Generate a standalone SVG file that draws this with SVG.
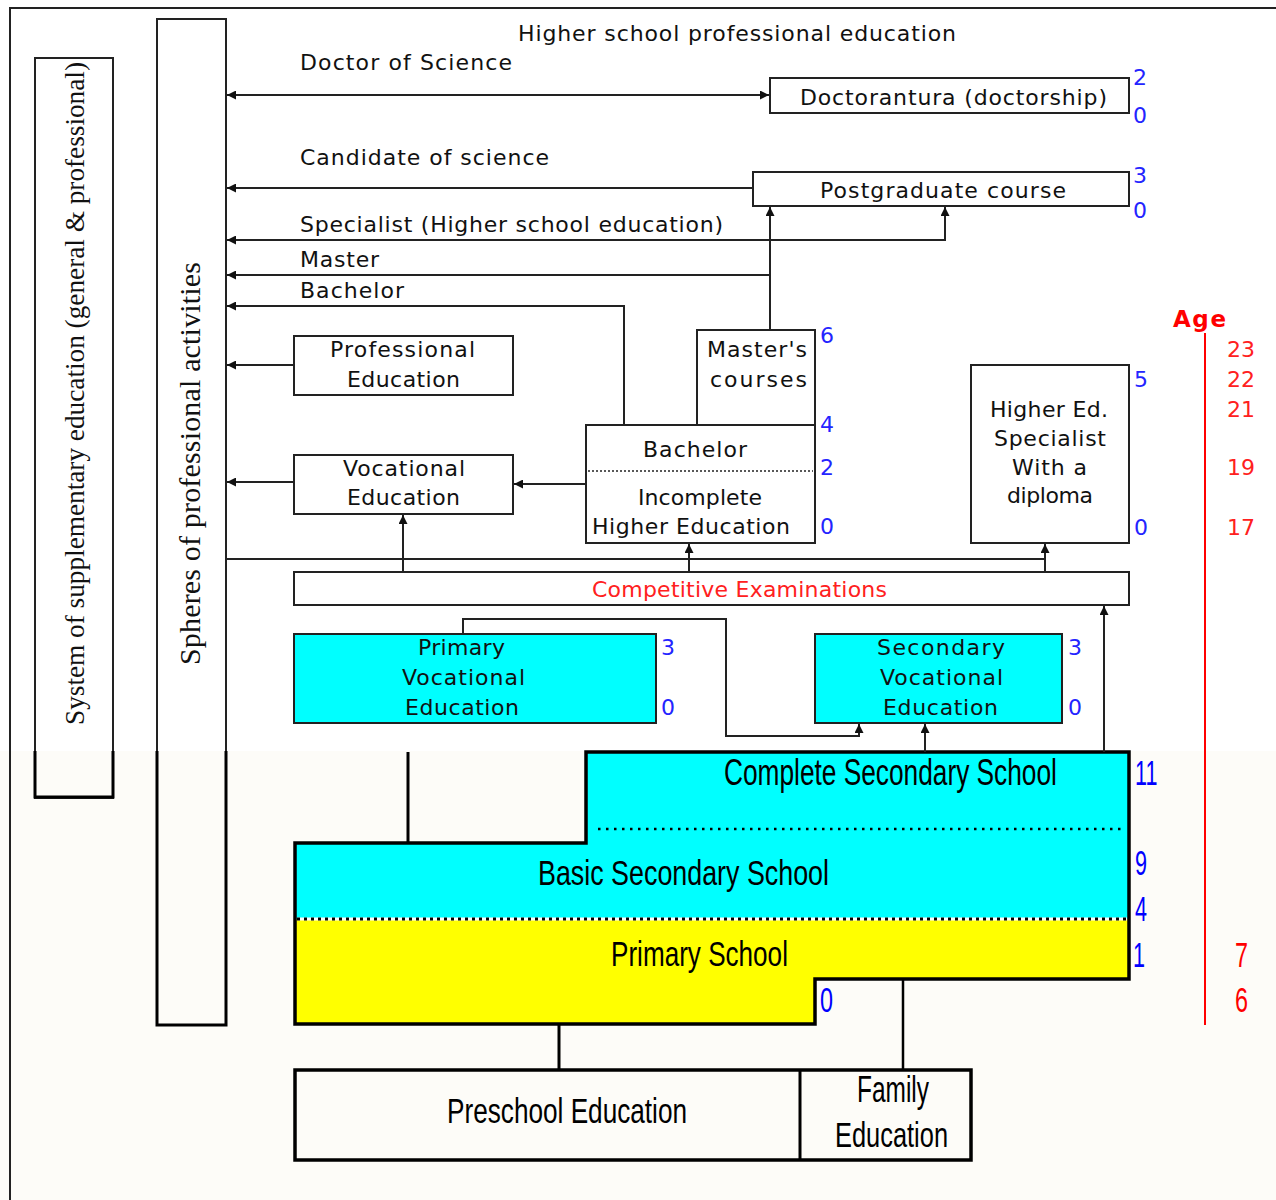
<svg xmlns="http://www.w3.org/2000/svg" width="1276" height="1200" viewBox="0 0 1276 1200">
<defs>
<style>
.t{font-family:"DejaVu Sans","Liberation Sans",sans-serif;font-size:22px;fill:#111}
.b{font-family:"DejaVu Sans","Liberation Sans",sans-serif;font-size:22px;fill:#2424ff}
.r{font-family:"DejaVu Sans","Liberation Sans",sans-serif;font-size:22px;fill:#ff2020}
.L{font-family:"Liberation Sans",sans-serif;font-size:36px;fill:#000}
.LB{font-family:"Liberation Sans",sans-serif;font-size:36px;fill:#0000ff}
.LR{font-family:"Liberation Sans",sans-serif;font-size:36px;fill:#ff0000}
.s{font-family:"Liberation Serif",serif;fill:#111}
.box{fill:#fff;stroke:#222;stroke-width:2}
.cy{fill:#00ffff;stroke:#222;stroke-width:2}
.c{fill:none;stroke:#222;stroke-width:2}
.k{fill:none;stroke:#000;stroke-width:3}
.a{marker-end:url(#ah)}
</style>
<marker id="ah" viewBox="0 0 10 10" refX="10" refY="5" markerWidth="9" markerHeight="9" markerUnits="userSpaceOnUse" orient="auto-start-reverse"><path d="M0,0 L10,5 L0,10 z" fill="#111"/></marker>
</defs>
<rect x="0" y="0" width="1276" height="1200" fill="#fff"/>
<rect x="0" y="751" width="1276" height="449" fill="#fdfcf8"/>
<path d="M10,1200 V8 H1276" fill="none" stroke="#222" stroke-width="2"/>

<g id="system">
<rect x="35" y="58" width="78" height="740" class="box" style="fill:none"/>
<path d="M35,751 V797 H113 V751" class="k"/>
<text class="s" font-size="28" transform="translate(84,725) rotate(-90)" textLength="663" lengthAdjust="spacingAndGlyphs">System of supplementary education (general &amp; professional)</text>
</g>

<g id="spheres">
<rect x="157" y="19" width="69" height="1006" class="box" style="fill:none"/>
<path d="M157,751 V1025 H226 V751" class="k"/>
<text class="s" font-size="30" transform="translate(200,665) rotate(-90)" textLength="403">Spheres of professional activities</text>
</g>

<g id="labels">
<text class="t" x="518" y="41" textLength="438">Higher school professional education</text>
<text class="t" x="300" y="70" textLength="212">Doctor of Science</text>
<text class="t" x="300" y="165" textLength="249">Candidate of science</text>
<text class="t" x="300" y="232" textLength="423">Specialist (Higher school education)</text>
<text class="t" x="300" y="267" textLength="79">Master</text>
<text class="t" x="300" y="298" textLength="104">Bachelor</text>
</g>

<g id="doctorantura">
<rect x="770" y="78" width="359" height="35" class="box"/>
<text class="t" x="800" y="105" textLength="307">Doctorantura (doctorship)</text>
<text class="b" x="1133" y="85">2</text>
<text class="b" x="1133" y="123">0</text>
</g>

<g id="postgraduate">
<rect x="753" y="172" width="376" height="34" class="box"/>
<text class="t" x="820" y="198" textLength="246">Postgraduate course</text>
<text class="b" x="1133" y="183">3</text>
<text class="b" x="1133" y="218">0</text>
</g>

<g id="professional">
<rect x="294" y="336" width="219" height="59" class="box"/>
<text class="t" x="330" y="357" textLength="145">Professional</text>
<text class="t" x="347" y="387" textLength="113">Education</text>
</g>

<g id="vocational">
<rect x="294" y="455" width="219" height="59" class="box"/>
<text class="t" x="343" y="476" textLength="122">Vocational</text>
<text class="t" x="347" y="505" textLength="113">Education</text>
</g>

<g id="masters">
<rect x="697" y="330" width="118" height="95" class="box"/>
<text class="t" x="707" y="357" textLength="100">Master's</text>
<text class="t" x="710" y="387" textLength="97">courses</text>
<text class="b" x="820" y="343">6</text>
</g>

<g id="bachelor">
<rect x="586" y="425" width="229" height="118" class="box"/>
<line x1="588" y1="471" x2="813" y2="471" stroke="#222" stroke-width="1.5" stroke-dasharray="2 2"/>
<text class="t" x="643" y="457" textLength="104">Bachelor</text>
<text class="t" x="638" y="505" textLength="124">Incomplete</text>
<text class="t" x="592" y="534" textLength="198">Higher Education</text>
<text class="b" x="820" y="432">4</text>
<text class="b" x="820" y="475">2</text>
<text class="b" x="820" y="534">0</text>
</g>

<g id="specialist">
<rect x="971" y="365" width="158" height="178" class="box"/>
<text class="t" x="990" y="417" textLength="118">Higher Ed.</text>
<text class="t" x="994" y="446" textLength="112">Specialist</text>
<text class="t" x="1012" y="475" textLength="75">With a</text>
<text class="t" x="1007" y="503" textLength="86">diploma</text>
<text class="b" x="1134" y="387">5</text>
<text class="b" x="1134" y="535">0</text>
</g>

<g id="competitive">
<rect x="294" y="572" width="835" height="33" class="box"/>
<text class="r" x="592" y="597" textLength="295">Competitive Examinations</text>
</g>

<g id="primary-vocational">
<rect x="294" y="634" width="362" height="89" class="cy"/>
<text class="t" x="418" y="655" textLength="87">Primary</text>
<text class="t" x="402" y="685" textLength="123">Vocational</text>
<text class="t" x="405" y="715" textLength="114">Education</text>
<text class="b" x="661" y="655">3</text>
<text class="b" x="661" y="715">0</text>
</g>

<g id="secondary-vocational">
<rect x="815" y="634" width="247" height="89" class="cy"/>
<text class="t" x="877" y="655" textLength="128">Secondary</text>
<text class="t" x="880" y="685" textLength="123">Vocational</text>
<text class="t" x="883" y="715" textLength="115">Education</text>
<text class="b" x="1068" y="655">3</text>
<text class="b" x="1068" y="715">0</text>
</g>

<g id="age">
<text x="1173" y="327" font-family="DejaVu Sans, sans-serif" font-size="23" font-weight="bold" fill="#ff0000" textLength="53">Age</text>
<line x1="1205" y1="333" x2="1205" y2="1025" stroke="#ff0000" stroke-width="2"/>
<text class="r" x="1227" y="357">23</text>
<text class="r" x="1227" y="387">22</text>
<text class="r" x="1227" y="417">21</text>
<text class="r" x="1227" y="475">19</text>
<text class="r" x="1227" y="535">17</text>
<text class="LR" transform="translate(1235,967) scale(0.65,1)">7</text>
<text class="LR" transform="translate(1235,1012) scale(0.65,1)">6</text>
</g>

<g id="school">
<polygon points="586,752 1129,752 1129,919 295,919 295,843 586,843" fill="#00ffff"/>
<polygon points="295,919 1129,919 1129,979 815,979 815,1024 295,1024" fill="#ffff00"/>
<line x1="598" y1="829" x2="1122" y2="829" stroke="#000" stroke-width="2.5" stroke-dasharray="2.5 5.5"/>
<line x1="297" y1="919" x2="1127" y2="919" stroke="#fff" stroke-width="3"/>
<line x1="297" y1="919" x2="1127" y2="919" stroke="#000" stroke-width="3" stroke-dasharray="3 4"/>
<path d="M586,752 H1129 V979 H815 V1024 H295 V843 H586 Z" fill="none" stroke="#000" stroke-width="3.5"/>
<text class="L" transform="translate(724,785) scale(0.73,1)">Complete Secondary School</text>
<text class="L" transform="translate(538,885) scale(0.746,1)">Basic Secondary School</text>
<text class="L" transform="translate(611,966) scale(0.725,1)">Primary School</text>
<text class="LB" transform="translate(1135,785) scale(0.6,1)">11</text>
<text class="LB" transform="translate(1135,875) scale(0.6,1)">9</text>
<text class="LB" transform="translate(1135,921) scale(0.6,1)">4</text>
<text class="LB" transform="translate(1133,967) scale(0.6,1)">1</text>
<text class="LB" transform="translate(820,1012) scale(0.65,1)">0</text>
</g>

<g id="preschool">
<rect x="295" y="1070" width="676" height="90" fill="#fdfcf8" stroke="#000" stroke-width="3.5"/>
<line x1="800" y1="1070" x2="800" y2="1160" stroke="#000" stroke-width="3"/>
<text class="L" transform="translate(447,1123) scale(0.727,1)">Preschool Education</text>
</g>

<g id="family">
<text class="L" transform="translate(857,1102) scale(0.68,1)">Family</text>
<text class="L" transform="translate(835,1147) scale(0.706,1)">Education</text>
</g>

<g id="connectors">
<path d="M227,95 H769" class="c" marker-start="url(#ah)" marker-end="url(#ah)"/>
<path d="M753,188 H227" class="c a"/>
<path d="M227,240 H945 V207" class="c" marker-start="url(#ah)" marker-end="url(#ah)"/>
<path d="M770,330 V207" class="c a"/>
<path d="M770,275 H227" class="c a"/>
<path d="M624,425 V306 H227" class="c a"/>
<path d="M294,365 H227" class="c a"/>
<path d="M294,482 H227" class="c a"/>
<path d="M586,484 H514" class="c a"/>
<path d="M227,559 H1045" class="c"/>
<path d="M403,572 V515" class="c a"/>
<path d="M689,572 V544" class="c a"/>
<path d="M1045,572 V544" class="c a"/>
<path d="M1104,752 V606" class="c a"/>
<path d="M463,634 V619 H726 V736 H859 V724" class="c a"/>
<path d="M925,752 V724" class="c a"/>
<path d="M408,752 V843" class="k"/>
<path d="M559,1024 V1070" class="k"/>
<path d="M903,979 V1070" class="k" style="stroke-width:2.5"/>
</g>
</svg>
